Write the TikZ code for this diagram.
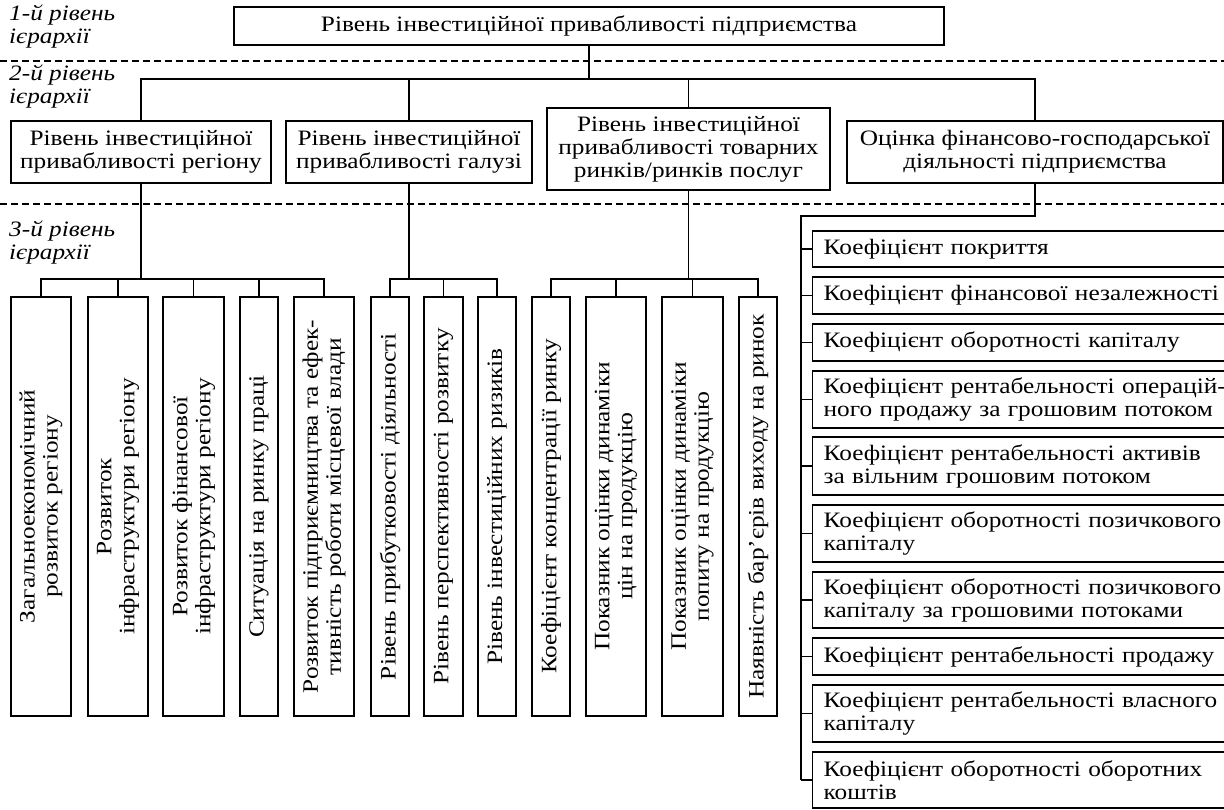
\documentclass[tikz,border=0pt]{standalone}
\usepackage{fontspec}
\setmainfont[FakeStretch=1.15]{Liberation Serif}
\newcommand\myfs{\fontsize{22}{23}\selectfont}
\begin{document}
\begin{tikzpicture}[x=1pt,y=-1pt,
  every node/.style={font=\myfs},
  box/.style={draw, line width=1.4pt, inner sep=0pt, align=center},
  vbox/.style={box, rotate=90, minimum width=419pt},
  rbox/.style={draw, line width=1.4pt, inner ysep=0pt, inner xsep=11pt, anchor=west, align=left, text width=440pt},
  conn/.style={line width=1.2pt},
  lvl/.style={line width=1.2pt, dash pattern=on 7pt off 4pt},
  lab/.style={anchor=north west, align=left, inner sep=0pt, font=\myfs\itshape}]
\useasboundingbox (0,0) rectangle (1224,810);

% level separators
\draw[lvl] (0,61) -- (1224,61);
\draw[lvl] (0,204) -- (1224,204);

% level labels
\node[lab] (l1) at (9,5) {1-й рівень\\ієрархії};
\node[lab] (l2) at (9,65) {2-й рівень\\ієрархії};
\node[lab] (l3) at (9,221) {3-й рівень\\ієрархії};

% level 1
\node[box, minimum width=710pt, minimum height=38pt] (top) at (589,26) {Рівень інвестиційної привабливості підприємства};

% level 2
\node[box, minimum width=260pt, minimum height=62pt] (a) at (141,152) {Рівень інвестиційної\\привабливості регіону};
\node[box, minimum width=246pt, minimum height=62pt] (b) at (409,152) {Рівень інвестиційної\\привабливості галузі};
\node[box, minimum width=283pt, minimum height=82pt] (c) at (688.5,149) {Рівень інвестиційної\\привабливості товарних\\ринків/ринків послуг};
\node[box, minimum width=376pt, minimum height=62pt] (d) at (1035,152) {Оцінка фінансово-господарської\\діяльності підприємства};

% level 3 vertical boxes
\node[vbox, minimum height=60pt] (v1) at (41,506.5) {Загальноекономічний\\розвиток регіону};
\node[vbox, minimum height=60pt] (v2) at (118,506.5) {Розвиток\\інфраструктури регіону};
\node[vbox, minimum height=61pt] (v3) at (193.5,506.5) {Розвиток фінансової\\інфраструктури регіону};
\node[vbox, minimum height=38pt] (v4) at (259,506.5) {Ситуація на ринку праці};
\node[vbox, minimum height=60pt] (v5) at (324,506.5) {Розвиток підприємництва та ефек-\\тивність роботи місцевої влади};
\node[vbox, minimum height=38pt] (v6) at (390,506.5) {Рівень прибутковості діяльності};
\node[vbox, minimum height=39pt] (v7) at (443.5,506.5) {Рівень перспективності розвитку};
\node[vbox, minimum height=38pt] (v8) at (497,506.5) {Рівень інвестиційних ризиків};
\node[vbox, minimum height=38pt] (v9) at (551,506.5) {Коефіцієнт концентрації ринку};
\node[vbox, minimum height=60pt] (v10) at (616,506.5) {Показник оцінки динаміки\\цін на продукцію};
\node[vbox, minimum height=61pt] (v11) at (692.5,506.5) {Показник оцінки динаміки\\попиту на продукцію};
\node[vbox, minimum height=38pt] (v12) at (758,506.5) {Наявність бар’єрів виходу на ринок};

% right column
\node[rbox, minimum height=36pt] (r1) at (812,249) {Коефіцієнт покриття};
\node[rbox, minimum height=37pt] (r2) at (812,295.5) {Коефіцієнт фінансової незалежності};
\node[rbox, minimum height=37pt] (r3) at (812,342.5) {Коефіцієнт оборотності капіталу};
\node[rbox, minimum height=57pt] (r4) at (812,399.5) {Коефіцієнт рентабельності операцій-\\ного продажу за грошовим потоком};
\node[rbox, minimum height=58pt] (r5) at (812,466) {Коефіцієнт рентабельності активів\\за вільним грошовим потоком};
\node[rbox, minimum height=57pt] (r6) at (812,533.5) {Коефіцієнт оборотності позичкового\\капіталу};
\node[rbox, minimum height=56pt] (r7) at (812,600) {Коефіцієнт оборотності позичкового\\капіталу за грошовими потоками};
\node[rbox, minimum height=37pt] (r8) at (812,656.5) {Коефіцієнт рентабельності продажу};
\node[rbox, minimum height=57pt] (r9) at (812,713.5) {Коефіцієнт рентабельності власного\\капіталу};
\node[rbox, minimum height=56pt] (r10) at (812,780) {Коефіцієнт оборотності оборотних\\коштів};

% connectors level 1 -> 2
\coordinate (h2) at (588,79);
\draw[conn] (top.south) -- (top.south |- h2);
\draw[conn] (a.north) -- (a.north |- h2) -- (d.north |- h2) -- (d.north);
\draw[conn] (b.north) -- (b.north |- h2);
\draw[conn] (c.north) -- (c.north |- h2);

% connectors level 2 -> 3
\coordinate (h3) at (0,279);
\draw[conn] (a.south) -- (a.south |- h3);
\draw[conn] (v1.east) -- (v1.east |- h3) -- (v5.east |- h3) -- (v5.east);
\foreach \v in {v2,v3,v4} \draw[conn] (\v.east) -- (\v.east |- h3);
\draw[conn] (b.south) -- (b.south |- h3);
\draw[conn] (v6.east) -- (v6.east |- h3) -- (v8.east |- h3) -- (v8.east);
\draw[conn] (v7.east) -- (v7.east |- h3);
\draw[conn] (c.south) -- (c.south |- h3);
\draw[conn] (v9.east) -- (v9.east |- h3) -- (v12.east |- h3) -- (v12.east);
\foreach \v in {v10,v11} \draw[conn] (\v.east) -- (\v.east |- h3);

% right spine
\coordinate (sp) at (801,216);
\draw[conn] (d.south) |- (sp) -- (sp |- r10.west);
\foreach \r in {r1,r2,r3,r4,r5,r6,r7,r8,r9,r10} \draw[conn] (\r.west) -- (\r.west -| sp);
\end{tikzpicture}
\end{document}
